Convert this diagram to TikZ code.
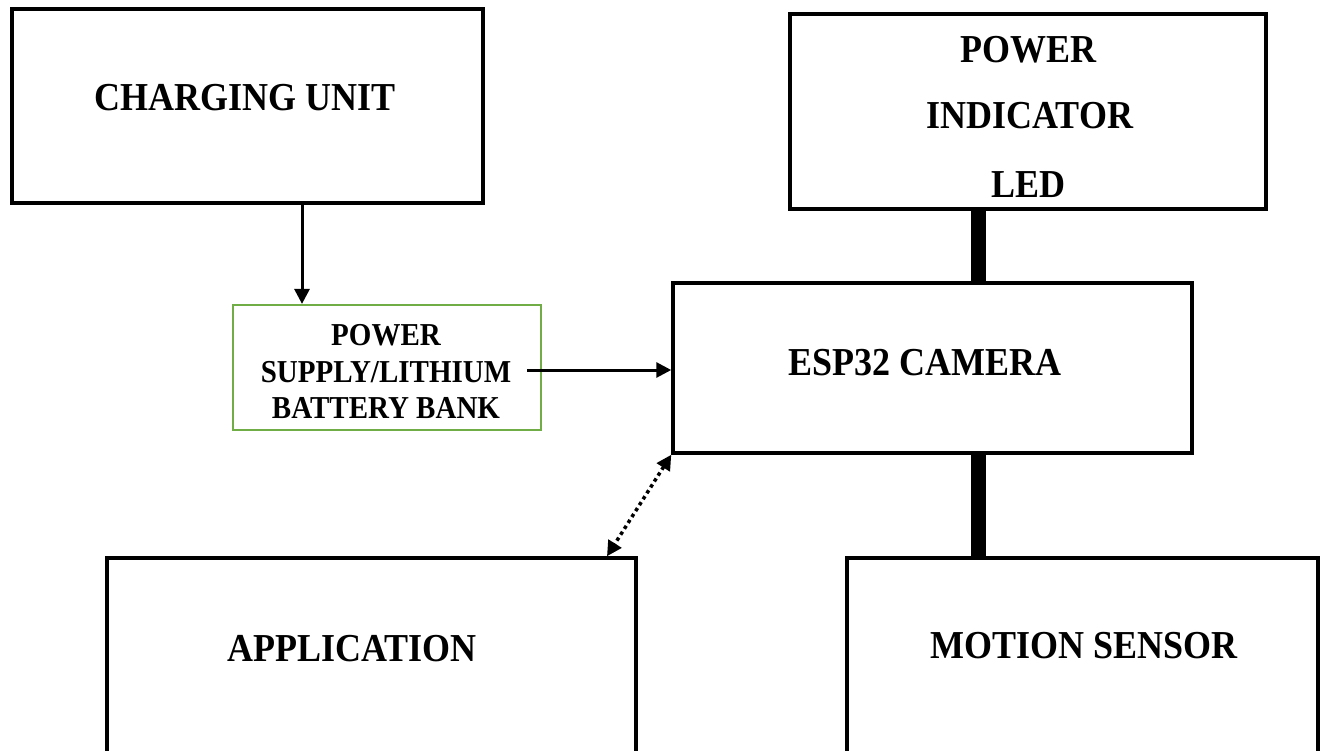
\documentclass[tikz,border=0pt]{standalone}
\usepackage{fontspec}
\setmainfont{Liberation Serif}
\usetikzlibrary{arrows.meta}
\definecolor{boxgreen}{RGB}{112,173,71}
\newcommand{\tall}[1]{\scalebox{1}[1.1]{#1}}
\begin{document}
\begin{tikzpicture}[x=1pt,y=-1pt,
  blk/.style={draw=black,line width=3.5pt,rectangle,inner sep=0pt,fill=none},
  gblk/.style={draw=boxgreen,line width=2.2pt,rectangle,inner sep=0pt},
  big/.style={font=\bfseries\fontsize{36}{43}\selectfont,inner sep=0pt,anchor=base},
  small/.style={font=\bfseries\fontsize{29}{35}\selectfont,inner sep=0pt,anchor=base},
  arr/.style={line width=3pt,-{Triangle[length=15pt,width=15pt]}},
  darr/.style={line width=3.5pt,dash pattern=on 3.5pt off 3.5pt,{Triangle[length=15pt,width=15pt]}-{Triangle[length=15pt,width=15pt]}},
  bar/.style={line width=15pt}]
\useasboundingbox (0,0) rectangle (1324,750);
\fill[white] (0,0) rectangle (1324,750);
\clip (0,0) rectangle (1324,750);
% boxes
\node[blk,minimum width=471pt,minimum height=194pt] (charge) at (247.5,106) {};
\node[blk,minimum width=476pt,minimum height=195pt] (led) at (1028,111.5) {};
\node[gblk,minimum width=308pt,minimum height=125pt] (psu) at (387,367.5) {};
\node[blk,minimum width=519pt,minimum height=170pt] (esp) at (932.5,368) {};
\node[blk,minimum width=529pt,minimum height=242pt] (app) at (371.5,679) {};
\node[blk,minimum width=471pt,minimum height=242pt] (motion) at (1082.5,679) {};
% texts
\node[big] (tcharge) at (245,110) {\tall{CHARGING UNIT}};
\node[big] (tled1) at (1028,62) {\tall{POWER}};
\node[big] (tled2) at (1030,128) {\tall{INDICATOR}};
\node[big] (tled3) at (1028,197) {\tall{LED}};
\node[small] (tpsu1) at (386,345) {\tall{POWER}};
\node[small] (tpsu2) at (386,382) {\tall{SUPPLY/LITHIUM}};
\node[small] (tpsu3) at (386,418) {\tall{BATTERY BANK}};
\node[big] (tesp) at (925,375) {\tall{ESP32 CAMERA}};
\node[big] (tapp) at (352,661) {\tall{APPLICATION}};
\node[big] (tmotion) at (1084,658) {\tall{MOTION SENSOR}};
% connector helpers
\coordinate (barx) at (978,0);
\coordinate (ax) at (302,0);
\coordinate (psustart) at (527,370);
\coordinate (dx) at (607,0);
% connectors
\draw[arr] (charge.south -| ax) -- (psu.north -| ax);
\draw[arr] (psustart) -- (psustart -| esp.west);
\draw[bar] (led.south -| barx) -- (esp.north -| barx);
\draw[bar] (esp.south -| barx) -- (motion.north -| barx);
\draw[darr] (esp.south west) -- (app.north -| dx);
\end{tikzpicture}
\end{document}
